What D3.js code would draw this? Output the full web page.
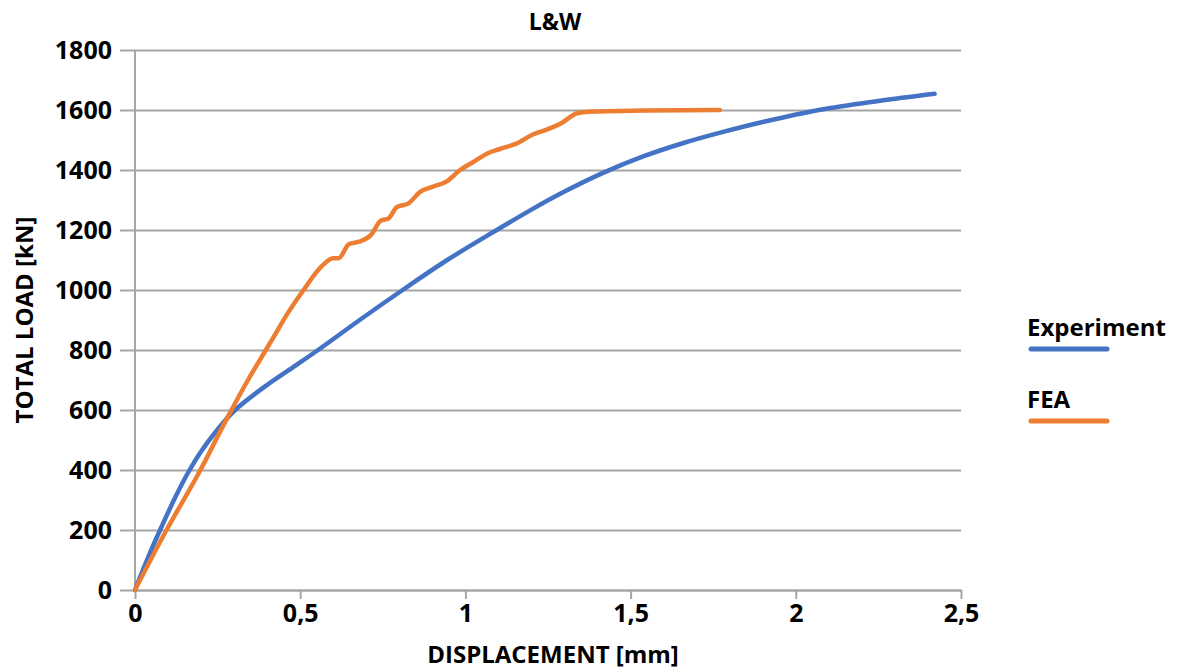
<!DOCTYPE html>
<html>
<head>
<meta charset="utf-8">
<script src="https://cdn.jsdelivr.net/npm/d3@7"></script>
<style>
  body { margin: 0; background: #fff; }
  text { font-family: "Open Sans", "Noto Sans", sans-serif; font-weight: bold; fill: #000; }
</style>
</head>
<body>
<div id="chart"></div>
<script>
// data
const expDisp = [0, 0.04, 0.08, 0.12, 0.16, 0.2, 0.25, 0.303, 0.399, 0.479, 0.554, 0.68, 0.81, 0.945, 1.095, 1.2, 1.3, 1.42, 1.54, 1.66, 1.78, 1.9, 2.07, 2.25, 2.42];
const expLoad = [0, 110, 210, 305, 390, 462, 535, 600, 683, 743, 800, 900, 1000, 1100, 1200, 1268, 1328, 1392, 1446, 1490, 1527, 1560, 1600, 1630, 1654];

const feaDisp = [0, 0.09, 0.198, 0.276, 0.342, 0.396, 0.414, 0.462, 0.51, 0.564, 0.6, 0.616, 0.648, 0.678, 0.714, 0.744, 0.768, 0.792, 0.828, 0.864, 0.9, 0.942, 0.984, 1.026, 1.068, 1.104, 1.152, 1.206, 1.242, 1.29, 1.338, 1.374, 1.542, 1.77];
const feaLoad = [0, 189, 400, 567, 700, 800, 833, 922, 1000, 1078, 1106, 1106, 1153, 1161, 1183, 1231, 1239, 1276, 1289, 1328, 1344, 1361, 1400, 1428, 1456, 1470, 1487, 1519, 1533, 1556, 1589, 1594, 1598, 1600];

const xTicks = [0, 0.5, 1, 1.5, 2, 2.5];
const yTicks = [0, 200, 400, 600, 800, 1000, 1200, 1400, 1600, 1800];
const seriesNames = ["Experiment", "FEA"];
const colors = ["#4472C4", "#ED7D31"];

const W = 1178, H = 669;
const margin = {top: 50, right: 217, bottom: 79, left: 135};
const width = W - margin.left - margin.right,
      height = H - margin.top - margin.bottom;

const svg = d3.select("#chart").append("svg")
    .attr("width", W)
    .attr("height", H);

const g = svg.append("g")
    .attr("transform", "translate(" + margin.left + "," + margin.top + ")");

// scales
const x = d3.scaleLinear().domain([0, 2.5]).range([0, width]);
const y = d3.scaleLinear().domain([0, 1800]).range([height, 0]);

// horizontal gridlines + y ticks
const yAxis = g.append("g")
    .call(d3.axisLeft(y).tickValues(yTicks).tickSize(-width).tickSizeOuter(0).tickPadding(23)
        .tickFormat(d3.format("d")));
yAxis.select(".domain").remove();
yAxis.selectAll(".tick line")
    .attr("x1", -15)
    .attr("stroke", "#a6a6a6")
    .attr("stroke-width", 2);
yAxis.selectAll(".tick text")
    .style("font-size", "25px");

// x axis
const xAxis = g.append("g")
    .attr("transform", "translate(0," + height + ")")
    .call(d3.axisBottom(x).tickValues(xTicks).tickSize(9).tickSizeOuter(0).tickPadding(5)
        .tickFormat(d => d3.format("")(d).replace(".", ",")));
xAxis.select(".domain").attr("stroke", "#a6a6a6").attr("stroke-width", 2);
xAxis.selectAll(".tick line").attr("stroke", "#a6a6a6").attr("stroke-width", 2);
xAxis.selectAll(".tick text").style("font-size", "25px");

// left axis line
g.append("line")
    .attr("x1", 0).attr("x2", 0)
    .attr("y1", 0).attr("y2", height)
    .attr("stroke", "#a6a6a6")
    .attr("stroke-width", 2);

// lines
const series = [
    expDisp.map((d, i) => ({x: d, y: expLoad[i]})),
    feaDisp.map((d, i) => ({x: d, y: feaLoad[i]}))
];
const curves = [d3.curveCatmullRom.alpha(0.5), d3.curveMonotoneX];

series.forEach((s, i) => {
    const line = d3.line()
        .x(d => x(d.x))
        .y(d => y(d.y))
        .curve(curves[i]);
    g.append("path")
        .datum(s)
        .attr("fill", "none")
        .attr("stroke", colors[i])
        .attr("stroke-width", 4.5)
        .attr("stroke-linejoin", "round")
        .attr("stroke-linecap", "round")
        .attr("d", line);
});

// title
svg.append("text")
    .attr("x", 555)
    .attr("y", 30)
    .attr("text-anchor", "middle")
    .style("font-size", "23px")
    .text("L&W");

// axis titles
svg.append("text")
    .attr("x", 553)
    .attr("y", 663)
    .attr("text-anchor", "middle")
    .style("font-size", "24px")
    .text("DISPLACEMENT [mm]");

svg.append("text")
    .attr("transform", "translate(33,320) rotate(-90)")
    .attr("text-anchor", "middle")
    .style("font-size", "24px")
    .text("TOTAL LOAD [kN]");

// legend
const legend = svg.append("g")
    .attr("transform", "translate(1027,0)");
seriesNames.forEach((name, i) => {
    const ly = 336 + i * 72;
    legend.append("text")
        .attr("x", 0)
        .attr("y", ly)
        .style("font-size", "24px")
        .text(name);
    legend.append("line")
        .attr("x1", 4).attr("x2", 80)
        .attr("y1", ly + 13).attr("y2", ly + 13)
        .attr("stroke", colors[i])
        .attr("stroke-width", 5)
        .attr("stroke-linecap", "round");
});
</script>
</body>
</html>
